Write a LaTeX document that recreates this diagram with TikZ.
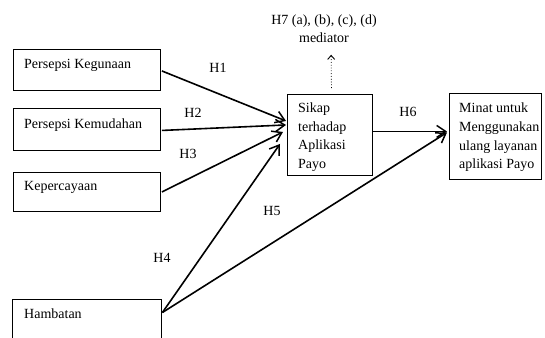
\documentclass[tikz,border=0pt]{standalone}
\usepackage{fontspec}
\setmainfont{Liberation Serif}
\usetikzlibrary{arrows.meta}
\begin{document}
\begin{tikzpicture}[x=1pt,y=-1pt,
  box/.style={draw,line width=0.9pt,inner sep=0pt,anchor=north west},
  txt/.style={inner sep=0pt,anchor=base west,font=\fontsize{14}{18.6}\selectfont,align=left},
  lbl/.style={inner sep=0pt,font=\fontsize{14}{18}\selectfont},
  arr/.style={line width=1.6pt,-{Straight Barb[length=9pt,width=12pt,line width=1.5pt]}}
]
\useasboundingbox (0,0) rectangle (545,337);
% boxes
\node[box,minimum width=147pt,minimum height=41pt] (k1) at (13,49) {};
\node[box,minimum width=147pt,minimum height=42pt] (k2) at (13,108) {};
\node[box,minimum width=147pt,minimum height=39pt] (k3) at (13,172) {};
\node[box,minimum width=149pt,minimum height=60pt] (k4) at (12,299) {};
\node[box,minimum width=85pt,minimum height=81pt] (sikap) at (287,94) {};
\node[box,minimum width=92pt,minimum height=86pt] (minat) at (449,93) {};
% texts
\node[txt] (t1) at (24,68) {Persepsi Kegunaan};
\node[txt] (t2) at (24,128) {Persepsi Kemudahan};
\node[txt] (t3) at (24,190) {Kepercayaan};
\node[txt] (t4) at (24,318) {Hambatan};
\node[txt,anchor=north west] (ts) at (298,102.5) {Sikap\\terhadap\\Aplikasi\\Payo};
\node[txt,anchor=north west] (tm) at (459,103) {Minat untuk\\Menggunakan\\ulang layanan\\aplikasi Payo};
\node[lbl,align=center,anchor=north,font=\fontsize{14}{18}\selectfont] (h7) at (324,14.5) {H7 (a), (b), (c), (d)\\mediator};
% labels
\node[lbl] (l1) at (218,68) {H1};
\node[lbl] (l2) at (193,113) {H2};
\node[lbl] (l3) at (188,154) {H3};
\node[lbl] (l4) at (162,258) {H4};
\node[lbl] (l5) at (272,210.5) {H5};
\node[lbl] (l6) at (408,112) {H6};
% arrows
\draw[arr] ([xshift=1pt,yshift=-1pt]k1.east) -- ([xshift=-1pt,yshift=14pt]sikap.west);
\draw[arr] ([xshift=1pt,yshift=-1pt]k2.east) -- ([xshift=-1pt,yshift=10pt]sikap.west);
\draw[arr] ([xshift=1pt]k3.east) -- ([xshift=-4pt,yshift=3pt]sikap.west);
\draw[arr] ([xshift=0.5pt,yshift=-13.5pt]k4.north east) -- ([xshift=-7pt,yshift=-9pt]sikap.west);
\draw[arr] ([xshift=0.5pt,yshift=-13.5pt]k4.north east) -- ([xshift=-2pt,yshift=4pt]minat.west);
\draw[arr] ([yshift=3.5pt]sikap.east) -- ([xshift=-2pt,yshift=5pt]minat.west);
\draw[line width=0.8pt,dotted,-{Straight Barb[length=4pt,width=7pt,line width=0.9pt]},shorten >=12pt] ([xshift=1.5pt,yshift=6pt]sikap.north) -- ([xshift=7pt]h7.south);
\end{tikzpicture}
\end{document}
